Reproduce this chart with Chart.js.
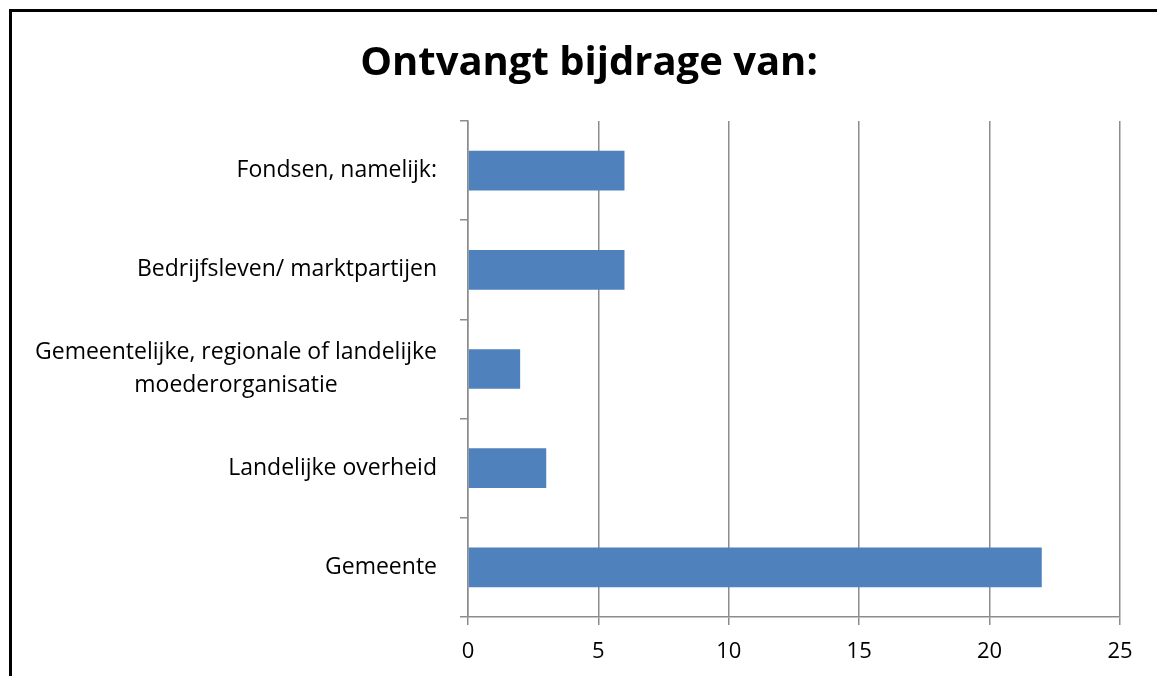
<!DOCTYPE html>
<html>
<head>
<meta charset="utf-8">
<script src="https://cdn.jsdelivr.net/npm/chart.js@4"></script>
<style>
  html, body { margin: 0; padding: 0; background: #fff; overflow: hidden; }
  #frame {
    position: absolute; left: 9px; top: 9px;
    width: 1165px; height: 680px;
    border-left: 3px solid #000; border-top: 3px solid #000;
    background: #fff;
  }
  #wrap { position: absolute; left: 0; top: 0; width: 1154px; height: 665px; }
</style>
</head>
<body>
<div id="frame"><div id="wrap"><canvas id="chart"></canvas></div></div>
<script>
// categories, top to bottom
const categories = [
  ['Fondsen, namelijk:'],
  ['Bedrijfsleven/ marktpartijen'],
  ['Gemeentelijke, regionale of landelijke', 'moederorganisatie'],
  ['Landelijke overheid'],
  ['Gemeente']
];
const counts = [6, 6, 2, 3, 22];
const xTicks = [0, 5, 10, 15, 20, 25];

const labelFont = '23px "Open Sans", sans-serif';
const gridGrey = '#8c8c8c';

// Excel style category labels: block right aligned, lines centred inside the block
const catLabels = {
  id: 'catLabels',
  afterDraw(chart) {
    const { ctx, scales: { y } } = chart;
    const right = y.right - 31;
    ctx.save();
    ctx.font = labelFont;
    ctx.fillStyle = '#000';
    ctx.textAlign = 'center';
    ctx.textBaseline = 'middle';
    const lh = 33;
    categories.forEach((lines, i) => {
      const w = Math.max(...lines.map(l => ctx.measureText(l).width));
      const cx = right - w / 2;
      const cy = y.getPixelForValue(i);
      lines.forEach((l, j) => {
        ctx.fillText(l, cx, cy + (j - (lines.length - 1) / 2) * lh);
      });
    });
    ctx.restore();
  }
};

new Chart(document.getElementById('chart'), {
  type: 'bar',
  data: {
    labels: categories,
    datasets: [{
      data: counts,
      backgroundColor: '#4f81bd',
      borderWidth: 0,
      barPercentage: 1,
      categoryPercentage: 0.4
    }]
  },
  options: {
    indexAxis: 'y',
    responsive: true,
    maintainAspectRatio: false,
    animation: false,
    layout: { padding: 0 },
    plugins: {
      legend: { display: false },
      tooltip: { enabled: false },
      title: {
        display: true,
        text: 'Ontvangt bijdrage van:',
        color: '#000',
        font: { family: '"Open Sans", sans-serif', size: 40, weight: 'bold', lineHeight: 1.2 },
        padding: { top: 28, bottom: 33 }
      }
    },
    scales: {
      x: {
        min: 0,
        max: 25,
        afterBuildTicks: s => { s.ticks = xTicks.map(v => ({ value: v })); },
        afterFit: s => { s.height = 60; },
        grid: { color: gridGrey, lineWidth: 1.5, tickLength: 8, drawTicks: true },
        border: { color: gridGrey, width: 1.5 },
        ticks: {
          color: '#000',
          font: { family: '"Open Sans", sans-serif', size: 22 },
          padding: 14
        }
      },
      y: {
        afterFit: s => { s.width = 456; },
        grid: { drawOnChartArea: false, drawTicks: true, tickLength: 8, color: gridGrey, lineWidth: 1.5, offset: true },
        border: { color: gridGrey, width: 1.5 },
        ticks: { display: false }
      },
      // empty right axis, only reserves the white margin right of the plot
      yRight: {
        type: 'category',
        position: 'right',
        afterFit: s => { s.width = 46; },
        grid: { display: false },
        border: { display: false },
        ticks: { display: false }
      }
    }
  },
  plugins: [catLabels]
});
</script>
</body>
</html>
